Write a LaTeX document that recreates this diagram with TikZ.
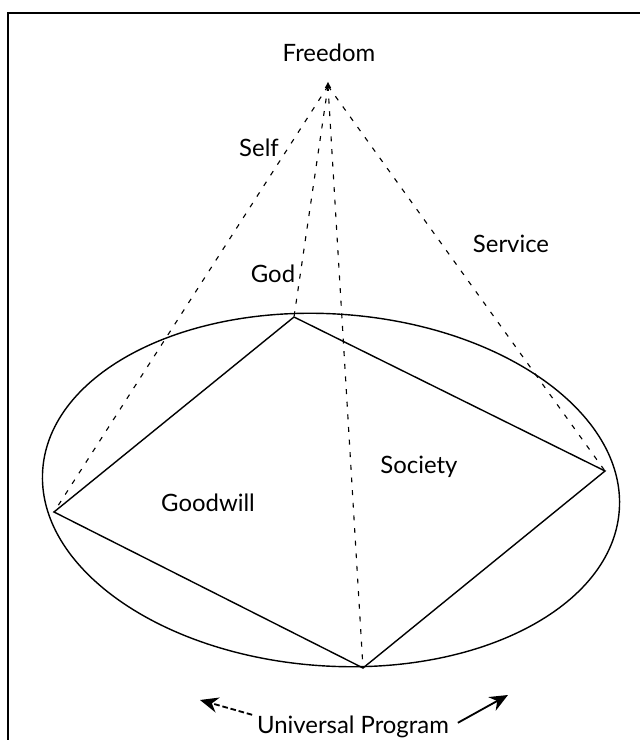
\documentclass[tikz,border=0pt]{standalone}
\usepackage{fontspec}
\setmainfont{Lato}
\usepackage{tikz}
\usetikzlibrary{arrows.meta,positioning}

\begin{document}
\begin{tikzpicture}[>=Stealth, font=\fontsize{17}{20}\selectfont]
  \useasboundingbox (0,0) rectangle (16,18.5);
  \tikzset{ray/.style={line width=0.8pt, dash pattern=on 3.5pt off 5.5pt},
           rim/.style={line width=1pt},
           bigtip/.style={-{Stealth[length=13pt,width=11pt]}, line width=1.3pt}}
  % frame
  \draw[line width=1.1pt] (16,18.18) -- (0.2,18.18) -- (0.2,0);
  % apex and ellipse
  \coordinate (F) at (8.2,16.35);
  \fill (F) ++(-0.08,-0.05) -- ++(0.16,0) -- ++(-0.08,0.15) -- cycle;
  \draw[rim, rotate around={-4:(8.275,6.25)}] (8.275,6.25) ellipse (7.225cm and 4.4cm);
  % diamond
  \coordinate (T) at (7.35,10.575);
  \coordinate (L) at (1.35,5.7);
  \coordinate (B) at (9.075,1.8);
  \coordinate (R) at (15.125,6.725);
  \draw[rim] (T) -- (R) -- (B) -- (L) -- cycle;
  % rays from freedom
  \draw[ray] (F) -- (L);
  \draw[ray] (F) -- (T);
  \draw[ray] (F) -- (B);
  \draw[ray] (F) -- (R);
  % labels
  \node (freedom) at (8.225,17.175) {Freedom};
  \node (self) at (6.475,14.8) {Self};
  \node (god) at (6.825,11.65) {God};
  \node (service) at (12.775,12.4) {Service};
  \node (society) at (10.475,6.825) {Society};
  \node (goodwill) at (5.2,5.925) {Goodwill};
  \node (prog) at (8.825,0.33) {Universal Program};
  \coordinate (pl) at (5.0,1.0);
  \coordinate (pr) at (12.7,1.125);
  \draw[bigtip, dash pattern=on 4pt off 2pt] (prog.west) ++(0,0.3) -- (pl);
  \draw[bigtip] (prog.east) ++(0.1,0.1) -- (pr);
\end{tikzpicture}
\end{document}
